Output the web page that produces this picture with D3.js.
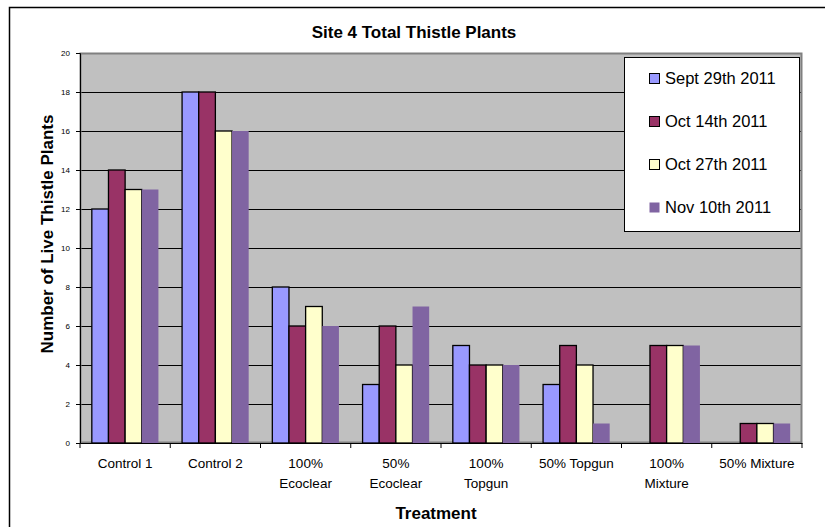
<!DOCTYPE html>
<html>
<head>
<meta charset="utf-8">
<script src="https://cdn.jsdelivr.net/npm/d3@7"></script>
<style>
  body { margin: 0; background: #fff; }
  svg { font-family: Arial, "Liberation Sans", sans-serif; }
</style>
</head>
<body>
<svg id="chart" width="825" height="527"></svg>
<script>
// treatments on the x axis
const categories = ["Control 1", "Control 2", "100% Ecoclear", "50% Ecoclear",
    "100% Topgun", "50% Topgun", "100% Mixture", "50% Mixture"];
// label lines as they wrap in the picture
const categoryLines = [["Control 1"], ["Control 2"], ["100%", "Ecoclear"], ["50%", "Ecoclear"],
    ["100%", "Topgun"], ["50% Topgun"], ["100%", "Mixture"], ["50% Mixture"]];

const seriesNames = ["Sept 29th 2011", "Oct 14th 2011", "Oct 27th 2011", "Nov 10th 2011"];
const sept29 = [12, 18, 8, 3, 5, 3, 0, 0];
const oct14 = [14, 18, 6, 6, 4, 5, 5, 1];
const oct27 = [13, 16, 7, 4, 4, 4, 5, 1];
const nov10 = [13, 16, 6, 7, 4, 1, 5, 1];
const yTicks = [0, 2, 4, 6, 8, 10, 12, 14, 16, 18, 20];

const seriesValues = [sept29, oct14, oct27, nov10];
const colors = ["#9999FF", "#993366", "#FFFFCC", "#8064A2"];
const strokes = ["#000", "#000", "#000", "none"];

const svg = d3.select("#chart");

// outer chart frame (clipped at the right and bottom like the picture)
svg.append("rect")
    .attr("x", 9.5).attr("y", 7.5)
    .attr("width", 830).attr("height", 540)
    .attr("fill", "#fff").attr("stroke", "#000").attr("stroke-width", 1.5);

const plot = { left: 80, top: 53, right: 802, bottom: 443 };

const x = d3.scaleBand()
    .domain(categories)
    .range([plot.left, plot.right])
    .paddingInner(0)
    .paddingOuter(0);

const x1 = d3.scaleBand()
    .domain(seriesNames)
    .range([0, x.bandwidth()])
    .paddingInner(0)
    .paddingOuter(0.71);

const y = d3.scaleLinear().domain([0, 20]).range([plot.bottom, plot.top]);

// plot background
svg.append("rect")
    .attr("x", plot.left).attr("y", plot.top)
    .attr("width", plot.right - plot.left).attr("height", plot.bottom - plot.top)
    .attr("fill", "#C0C0C0");

// gridlines
svg.append("g")
    .selectAll("line")
    .data(yTicks.filter(d => d > 0 && d < 20))
    .join("line")
    .attr("x1", plot.left).attr("x2", plot.right)
    .attr("y1", d => Math.round(y(d)) + 0.5).attr("y2", d => Math.round(y(d)) + 0.5)
    .attr("stroke", "#000").attr("stroke-width", 1);

// plot border
svg.append("rect")
    .attr("x", plot.left + 0.5).attr("y", plot.top + 0.5)
    .attr("width", plot.right - plot.left - 1).attr("height", plot.bottom - plot.top - 1)
    .attr("fill", "none").attr("stroke", "#808080").attr("stroke-width", 2);

// bars
seriesValues.forEach((vals, si) => {
    svg.append("g")
        .selectAll("rect")
        .data(vals.map((v, i) => ({ cat: categories[i], v: v })).filter(d => d.v > 0))
        .join("rect")
        .attr("x", d => x(d.cat) + x1(seriesNames[si]))
        .attr("y", d => y(d.v))
        .attr("width", x1.bandwidth())
        .attr("height", d => y(0) - y(d.v))
        .attr("fill", colors[si])
        .attr("stroke", strokes[si])
        .attr("stroke-width", 1.3);
});

// y axis
const yAxis = svg.append("g")
    .attr("transform", `translate(${plot.left},0)`)
    .call(d3.axisLeft(y).tickValues(yTicks).tickSize(4).tickPadding(6));
yAxis.select(".domain").attr("stroke", "#000");
yAxis.selectAll("text").attr("font-size", 8).attr("fill", "#000")
    .attr("font-family", "Arial, 'Liberation Sans', sans-serif");

// x axis
const xAxis = svg.append("g")
    .attr("transform", `translate(0,${plot.bottom})`)
    .call(d3.axisBottom(x).tickSize(0).tickFormat(""));
xAxis.select(".domain").attr("stroke", "#000");
svg.append("g")
    .selectAll("line")
    .data(d3.range(categories.length + 1))
    .join("line")
    .attr("x1", i => i < categories.length ? x(categories[i]) : plot.right)
    .attr("x2", i => i < categories.length ? x(categories[i]) : plot.right)
    .attr("y1", plot.bottom).attr("y2", plot.bottom + 5)
    .attr("stroke", "#000");

// category labels
const labelG = svg.append("g");
categories.forEach((c, i) => {
    const t = labelG.append("text")
        .attr("x", x(c) + x.bandwidth() / 2)
        .attr("y", 468)
        .attr("text-anchor", "middle")
        .attr("font-size", 13.5)
        .attr("fill", "#000");
    categoryLines[i].forEach((line, li) => {
        t.append("tspan")
            .attr("x", x(c) + x.bandwidth() / 2)
            .attr("dy", li === 0 ? 0 : 20)
            .text(line);
    });
});

// titles
svg.append("text")
    .attr("x", 414).attr("y", 38)
    .attr("text-anchor", "middle")
    .attr("font-size", 17).attr("font-weight", "bold")
    .text("Site 4 Total Thistle Plants");

svg.append("text")
    .attr("x", 436).attr("y", 519)
    .attr("text-anchor", "middle")
    .attr("font-size", 17).attr("font-weight", "bold")
    .text("Treatment");

svg.append("text")
    .attr("transform", `translate(53,234) rotate(-90)`)
    .attr("text-anchor", "middle")
    .attr("font-size", 17).attr("font-weight", "bold")
    .text("Number of Live Thistle Plants");

// legend
const legend = svg.append("g").attr("transform", "translate(624,57)");
legend.append("rect")
    .attr("x", 0.5).attr("y", 0.5).attr("width", 175).attr("height", 174)
    .attr("fill", "#fff").attr("stroke", "#000");
seriesNames.forEach((name, i) => {
    const base = 27 + i * 43;
    legend.append("rect")
        .attr("x", 25.5).attr("y", base - 10.5)
        .attr("width", 10).attr("height", 10)
        .attr("fill", colors[i])
        .attr("stroke", strokes[i] === "none" ? "none" : "#000");
    legend.append("text")
        .attr("x", 41).attr("y", base)
        .attr("font-size", 16.5)
        .text(name);
});
</script>
</body>
</html>
